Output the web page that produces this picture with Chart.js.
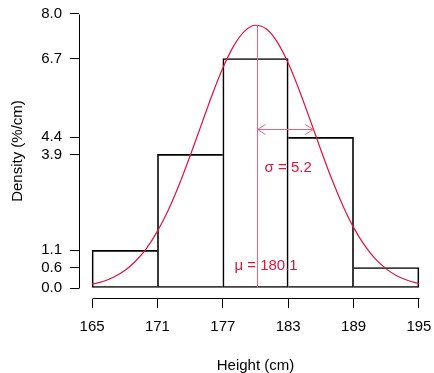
<!DOCTYPE html>
<html>
<head>
<meta charset="utf-8">
<script src="https://cdn.jsdelivr.net/npm/chart.js@4"></script>
<style>
  html, body { margin: 0; padding: 0; background: #fff; }
  #wrap { width: 434px; height: 373px; }
</style>
</head>
<body>
<div id="wrap"><canvas id="histChart" width="434" height="373"></canvas></div>
<script>
const binCenters = [168, 174, 180, 186, 192];
const densities = [1.1, 3.9, 6.7, 4.4, 0.6];
const xTicks = [165, 171, 177, 183, 189, 195];
const yTicks = [0.0, 0.6, 1.1, 3.9, 4.4, 6.7, 8.0];

// fitted normal curve
const curveX = [165, 166, 167, 168, 169, 170, 171, 172, 173, 174, 175, 176, 177, 178, 179, 180,
                181, 182, 183, 184, 185, 186, 187, 188, 189, 190, 191, 192, 193, 194, 195];
const curveY = [0.11, 0.19, 0.32, 0.51, 0.79, 1.16, 1.66, 2.28, 3.02, 3.86, 4.74, 5.62, 6.42, 7.07, 7.50, 7.67,
                7.56, 7.18, 6.57, 5.79, 4.92, 4.03, 3.18, 2.42, 1.77, 1.25, 0.85, 0.56, 0.35, 0.22, 0.13];

const mu = 180.1;
const sigma = 5.2;
const peak = 7.67;
const arrowLevel = 4.65;

const FONT = "'Liberation Sans', Arial, sans-serif";
const RED = '#dc143c';
const RED_SOFT = '#e4657f';

// border only on the taller side of each shared edge, so edges stay 1px
function barBorder(ctx) {
    const i = ctx.dataIndex;
    const h = densities[i];
    const left = (i === 0 || densities[i - 1] <= h) ? 1 : 0;
    const right = (i === densities.length - 1 || densities[i + 1] < h) ? 1 : 0;
    return { top: 1, bottom: 1, left: left, right: right };
}

const extras = {
    id: 'extras',
    afterDatasetsDraw(chart) {
        const { ctx } = chart;
        const xs = chart.scales.x;
        const ys = chart.scales.y;
        const area = chart.chartArea;
        ctx.save();

        // R style axis lines, only across the tick range
        ctx.strokeStyle = '#000';
        ctx.lineWidth = 1;
        ctx.beginPath();
        const ax = Math.round(area.left) + 0.5;
        ctx.moveTo(ax, Math.round(ys.getPixelForValue(yTicks[0])) + 0.5);
        ctx.lineTo(ax, Math.round(ys.getPixelForValue(yTicks[yTicks.length - 1])) + 0.5);
        const ay = Math.round(area.bottom) - 0.5;
        ctx.moveTo(Math.round(xs.getPixelForValue(xTicks[0])) + 0.5, ay);
        ctx.lineTo(Math.round(xs.getPixelForValue(xTicks[xTicks.length - 1])) + 0.5, ay);
        ctx.stroke();

        // mean line
        const mx = Math.round(xs.getPixelForValue(mu)) + 0.5;
        ctx.strokeStyle = RED_SOFT;
        ctx.beginPath();
        ctx.moveTo(mx, ys.getPixelForValue(0));
        ctx.lineTo(mx, ys.getPixelForValue(peak));
        ctx.stroke();

        // sigma arrow
        const sx = xs.getPixelForValue(mu + sigma);
        const sy = Math.round(ys.getPixelForValue(arrowLevel)) + 0.5;
        ctx.beginPath();
        ctx.moveTo(mx, sy);
        ctx.lineTo(sx, sy);
        ctx.moveTo(mx + 8, sy - 5);
        ctx.lineTo(mx, sy);
        ctx.lineTo(mx + 8, sy + 5);
        ctx.moveTo(sx - 8, sy - 5);
        ctx.lineTo(sx, sy);
        ctx.lineTo(sx - 8, sy + 5);
        ctx.stroke();

        // labels
        ctx.fillStyle = RED;
        ctx.font = '15px ' + FONT;
        ctx.textAlign = 'center';
        ctx.textBaseline = 'middle';
        ctx.fillText('\u03c3 = ' + sigma.toFixed(1), xs.getPixelForValue(183.0), ys.getPixelForValue(3.5));
        ctx.fillText('\u03bc = ' + mu.toFixed(1), xs.getPixelForValue(180.97), ys.getPixelForValue(0.64));
        ctx.restore();
    }
};

const ctx = document.getElementById('histChart').getContext('2d');

new Chart(ctx, {
    type: 'bar',
    data: {
        datasets: [
            {
                type: 'line',
                label: 'normal',
                data: curveX.map((x, i) => ({ x: x, y: curveY[i] })),
                borderColor: RED,
                borderWidth: 1.2,
                pointRadius: 0,
                fill: false,
                cubicInterpolationMode: 'monotone',
                order: 0
            },
            {
                label: 'density',
                data: binCenters.map((c, i) => ({ x: c, y: densities[i] })),
                backgroundColor: 'rgba(0,0,0,0)',
                borderColor: '#000',
                borderWidth: barBorder,
                borderSkipped: false,
                barPercentage: 1,
                categoryPercentage: 1,
                order: 1
            }
        ]
    },
    options: {
        responsive: false,
        animation: false,
        layout: { padding: { top: 3, right: 2, left: 0, bottom: 0 } },
        plugins: {
            legend: { display: false },
            tooltip: { enabled: false }
        },
        scales: {
            x: {
                type: 'linear',
                min: 163.8,
                max: 196.2,
                offset: false,
                afterBuildTicks: (s) => { s.ticks = xTicks.map(v => ({ value: v })); },
                afterFit: (s) => { s.height = 74; s.paddingLeft = 0; s.paddingRight = 0; },
                grid: { display: true, offset: false, drawOnChartArea: false, drawTicks: true, tickLength: 9, color: '#000' },
                border: { display: false },
                ticks: {
                    color: '#000',
                    padding: 10,
                    maxRotation: 0,
                    autoSkip: false,
                    font: { family: FONT, size: 15 },
                    callback: (v) => String(v)
                },
                title: {
                    display: true,
                    text: 'Height (cm)',
                    color: '#000',
                    font: { family: FONT, size: 15, lineHeight: 1 },
                    padding: { top: 0, bottom: 0 }
                }
            },
            y: {
                min: -0.32,
                max: 8.32,
                afterBuildTicks: (s) => { s.ticks = yTicks.map(v => ({ value: v })); },
                afterFit: (s) => { s.width = 79; s.paddingTop = 0; s.paddingBottom = 0; },
                grid: { display: true, drawOnChartArea: false, drawTicks: true, tickLength: 9, color: '#000' },
                border: { display: false },
                ticks: {
                    color: '#000',
                    padding: 8,
                    autoSkip: false,
                    font: { family: FONT, size: 15 },
                    callback: (v) => Number(v).toFixed(1)
                },
                title: {
                    display: true,
                    text: 'Density (%/cm)',
                    color: '#000',
                    font: { family: FONT, size: 15, lineHeight: 1 },
                    padding: { top: 10.5, bottom: 0 }
                }
            }
        }
    },
    plugins: [extras]
});
</script>
</body>
</html>
